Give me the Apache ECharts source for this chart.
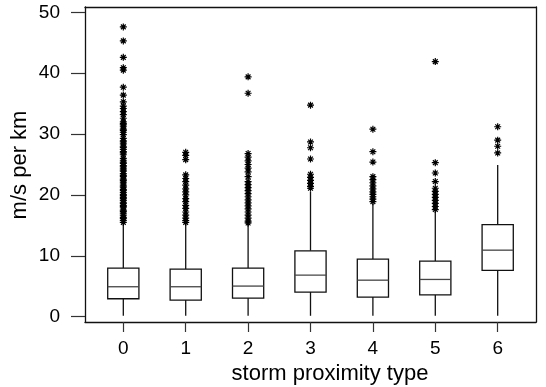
<!DOCTYPE html>
<html>
<head>
<meta charset="utf-8">
<script src="https://cdn.jsdelivr.net/npm/echarts@6/dist/echarts.min.js"></script>
<style>html,body{margin:0;padding:0;background:#fff;}#c{width:546px;height:387px;}</style>
</head>
<body>
<div id="c"></div>
<script>
const categories = ['0', '1', '2', '3', '4', '5', '6'];
const whiskerLow = [0.15, 0.15, 0.15, 0.15, 0.15, 0.15, 0.15];
const q1 = [2.95, 2.73, 3.06, 4.05, 3.22, 3.6, 7.6];
const median = [4.92, 4.92, 5.03, 6.83, 6.0, 6.12, 10.93];
const q3 = [7.98, 7.82, 7.98, 10.82, 9.45, 9.13, 15.13];
const whiskerHigh = [15.46, 15.36, 15.2, 20.5, 18.5, 17.3, 24.9];
const yTicks = [0, 10, 20, 30, 40, 50];

const outliers0 = [15.5, 15.8, 16.1, 16.3, 16.7, 17.0, 17.3, 17.5, 17.9, 18.1, 18.3, 18.6, 18.8, 19.1, 19.4, 19.6, 19.9, 20.1, 20.4, 20.7, 20.9, 21.3, 21.5, 21.8, 22.1, 22.4, 22.6, 23.0, 23.2, 23.5, 23.9, 24.1, 24.3, 24.6, 24.8, 25.2, 25.4, 25.7, 26.0, 26.6, 26.9, 27.1, 27.5, 27.8, 28.0, 28.4, 28.7, 28.9, 29.3, 29.9, 30.3, 30.6, 30.8, 31.2, 31.5, 31.7, 32.0, 32.6, 33.2, 33.7, 34.2, 34.6, 35.3, 36.4, 37.7, 40.5, 40.9, 42.6, 45.3, 47.6];
const outliers1 = [15.5, 15.8, 16.2, 16.7, 17.2, 17.8, 18.3, 18.9, 19.4, 20.0, 20.5, 21.0, 21.6, 22.2, 22.7, 23.3, 25.8, 26.5, 27.0];
const outliers2 = [15.4, 15.7, 16.2, 16.7, 17.2, 17.7, 18.2, 18.7, 19.2, 19.7, 20.2, 20.7, 21.2, 21.7, 22.2, 23.0, 23.8, 24.4, 25.0, 25.6, 26.2, 26.8, 36.7, 39.4];
const outliers3 = [21.1, 21.4, 21.9, 22.4, 22.9, 23.4, 25.9, 27.75, 28.7, 34.75];
const outliers4 = [18.9, 19.3, 19.7, 20.1, 20.5, 21.0, 21.5, 22.0, 22.5, 23.0, 25.4, 27.1, 30.8];
const outliers5 = [17.6, 18.1, 18.6, 19.1, 19.6, 20.1, 20.6, 21.1, 22.2, 23.6, 25.3, 41.9];
const outliers6 = [26.9, 28.0, 29.0, 31.2];
const outlierLists = [outliers0, outliers1, outliers2, outliers3, outliers4, outliers5, outliers6];

const boxData = categories.map((c, i) => [i, whiskerLow[i], q1[i], median[i], q3[i], whiskerHigh[i]]);
const outlierData = [];
outlierLists.forEach((list, i) => list.forEach(v => outlierData.push([i, v])));

const FONT = 'Liberation Sans, Arial, sans-serif';
const LINE = '#111';
const catIdx = categories.map((c, i) => i);
const X_MIN = -0.614, X_MAX = 6.614, Y_MIN = -0.87, Y_MAX = 50.87;
const frameLine = {show: true, onZero: false, lineStyle: {color: LINE, width: 1.3}};

const chart = echarts.init(document.getElementById('c'), null, {renderer: 'canvas'});
chart.setOption({
  animation: false,
  backgroundColor: '#fff',
  grid: {left: 85, top: 7, width: 451, height: 315, show: false},
  xAxis: [{
    type: 'value', min: X_MIN, max: X_MAX, position: 'bottom',
    axisLine: frameLine,
    splitLine: {show: false},
    axisTick: {show: true, inside: false, length: 10, lineStyle: {color: '#333', width: 1.2}, customValues: catIdx},
    axisLabel: {customValues: catIdx, formatter: v => categories[Math.round(v)], fontSize: 19, fontFamily: FONT, color: '#000', margin: 17}
  }, {
    type: 'value', min: X_MIN, max: X_MAX, position: 'top',
    axisLine: frameLine, axisTick: {show: false}, axisLabel: {show: false}, splitLine: {show: false}
  }],
  yAxis: [{
    type: 'value', min: Y_MIN, max: Y_MAX, position: 'left',
    axisLine: frameLine,
    splitLine: {show: false},
    axisTick: {show: true, inside: false, length: 14, lineStyle: {color: '#333', width: 1.2}, customValues: yTicks},
    axisLabel: {customValues: yTicks, fontSize: 19, fontFamily: FONT, color: '#000', margin: 25}
  }, {
    type: 'value', min: Y_MIN, max: Y_MAX, position: 'right',
    axisLine: frameLine, axisTick: {show: false}, axisLabel: {show: false}, splitLine: {show: false}
  }],
  series: [
    {
      type: 'custom',
      xAxisIndex: 0, yAxisIndex: 0,
      data: boxData,
      encode: {x: 0, y: [1, 2, 3, 4, 5]},
      renderItem: function (params, api) {
        const x = api.value(0);
        const half = api.size([1, 0])[0] * 0.25;
        const pLow = api.coord([x, api.value(1)]);
        const pQ1 = api.coord([x, api.value(2)]);
        const pMed = api.coord([x, api.value(3)]);
        const pQ3 = api.coord([x, api.value(4)]);
        const pHigh = api.coord([x, api.value(5)]);
        const st = {stroke: LINE, lineWidth: 1.3, fill: null};
        return {
          type: 'group',
          children: [
            {type: 'line', shape: {x1: pLow[0], y1: pLow[1], x2: pQ1[0], y2: pQ1[1]}, style: st},
            {type: 'line', shape: {x1: pQ3[0], y1: pQ3[1], x2: pHigh[0], y2: pHigh[1]}, style: st},
            {type: 'rect', shape: {x: pQ3[0] - half, y: pQ3[1], width: half * 2, height: pQ1[1] - pQ3[1]}, style: {stroke: LINE, lineWidth: 1.3, fill: '#fff'}},
            {type: 'line', shape: {x1: pMed[0] - half, y1: pMed[1], x2: pMed[0] + half, y2: pMed[1]}, style: {stroke: '#444', lineWidth: 1.3}}
          ]
        };
      },
      z: 2
    },
    {
      type: 'scatter',
      xAxisIndex: 0, yAxisIndex: 0,
      data: outlierData,
      symbol: 'path://M5,0L5,10M0,5L10,5M1.6,1.6L8.4,8.4M1.6,8.4L8.4,1.6',
      symbolSize: 7,
      itemStyle: {color: 'transparent', borderColor: '#000', borderWidth: 1.2, opacity: 1},
      z: 3
    }
  ],
  graphic: [
    {type: 'text', x: 20, y: 165, rotation: Math.PI / 2, style: {text: 'm/s per km', font: '22px ' + FONT, fill: '#000', align: 'center', verticalAlign: 'middle'}},
    {type: 'text', x: 330, y: 374, style: {text: 'storm proximity type', font: '22px ' + FONT, fill: '#000', align: 'center', verticalAlign: 'middle'}}
  ]
});
</script>
</body>
</html>
